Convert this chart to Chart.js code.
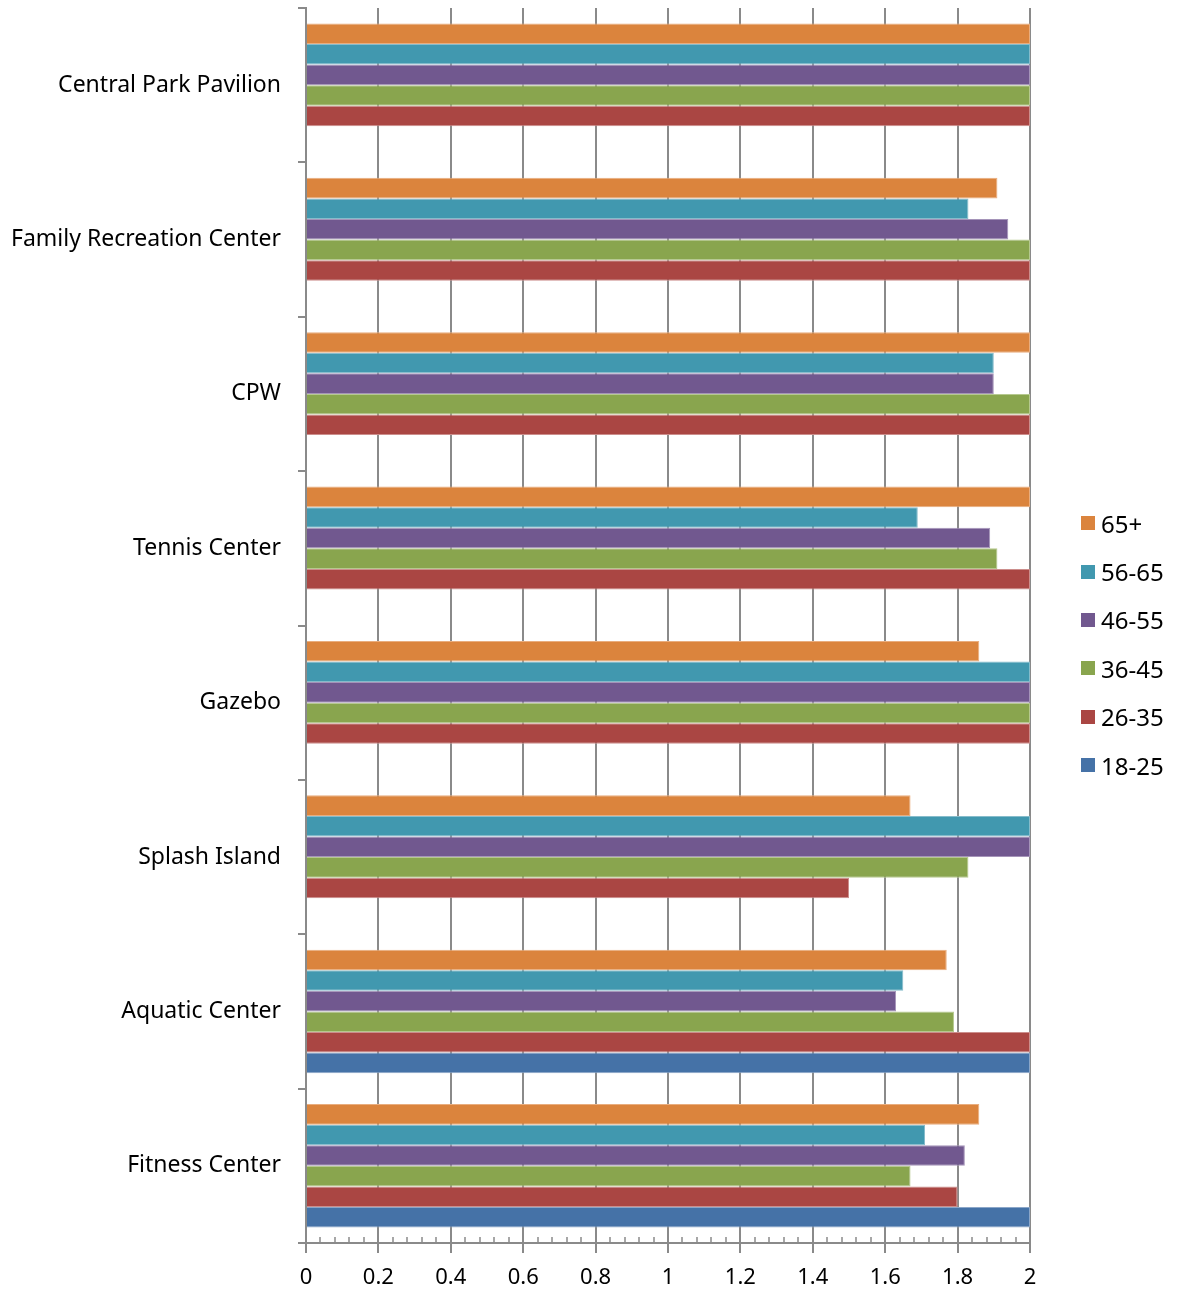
<!DOCTYPE html>
<html lang="en">
<head>
  <meta charset="UTF-8" />
  <title>Facility ratings by age group</title>
  <script src="https://cdn.jsdelivr.net/npm/chart.js"></script>
  <style>
    html, body { margin: 0; padding: 0; background: white; }
    #wrap { width: 1181px; height: 1294px; position: relative; }
    #legend { position: absolute; left: 1081px; top: 499px; font-family: "Noto Sans", sans-serif; font-size: 24px; color: #000; }
    #legend div { height: 48.4px; display: flex; align-items: center; }
    #legend span.box { width: 14px; height: 14px; margin-right: 6px; display: inline-block; }
  </style>
</head>
<body>
  <div id="wrap">
    <canvas id="chart"></canvas>
    <div id="legend"></div>
  </div>

  <script>
    // categories listed top to bottom
    const categories = ['Central Park Pavilion', 'Family Recreation Center', 'CPW', 'Tennis Center',
                        'Gazebo', 'Splash Island', 'Aquatic Center', 'Fitness Center'];
    const age65plus = [2, 1.91, 2, 2, 1.86, 1.67, 1.77, 1.86];
    const age56to65 = [2, 1.83, 1.9, 1.69, 2, 2, 1.65, 1.71];
    const age46to55 = [2, 1.94, 1.9, 1.89, 2, 2, 1.63, 1.82];
    const age36to45 = [2, 2, 2, 1.91, 2, 1.83, 1.79, 1.67];
    const age26to35 = [2, 2, 2, 2, 2, 1.5, 2, 1.8];
    const age18to25 = [null, null, null, null, null, null, 2, 2];
    const xTicks = [0, 0.2, 0.4, 0.6, 0.8, 1, 1.2, 1.4, 1.6, 1.8, 2];

    const gridColor = '#8a8a8a';
    const tickFont = { family: '"Noto Sans", sans-serif', size: 22 };
    const catFont = { family: '"Noto Sans", sans-serif', size: 23 };

    // small minor ticks on the x axis, 4 between each major tick
    const minorTicks = {
      id: 'minorTicks',
      afterDraw(chart) {
        const x = chart.scales.x, ctx = chart.ctx;
        const y0 = chart.chartArea.bottom;
        ctx.save();
        ctx.strokeStyle = gridColor;
        ctx.lineWidth = 1.5;
        for (let i = 0; i < xTicks.length - 1; i++) {
          const step = (xTicks[i + 1] - xTicks[i]) / 5;
          for (let k = 1; k < 5; k++) {
            const px = Math.round(x.getPixelForValue(xTicks[i] + step * k));
            ctx.beginPath();
            ctx.moveTo(px, y0 - 6);
            ctx.lineTo(px, y0);
            ctx.stroke();
          }
        }
        ctx.restore();
      }
    };

    function series(label, data, color, edge) {
      return { label, data, backgroundColor: color, borderColor: edge, borderWidth: 1,
               categoryPercentage: 0.8, barPercentage: 1 };
    }

    const chart = new Chart(document.getElementById('chart'), {
      type: 'bar',
      data: {
        labels: categories,
        datasets: [
          series('65+', age65plus, '#DB843D', '#E9AD7E'),
          series('56-65', age56to65, '#4198AF', '#86BCCB'),
          series('46-55', age46to55, '#71588F', '#A594B9'),
          series('36-45', age36to45, '#89A54E', '#B6C98F'),
          series('26-35', age26to35, '#AA4643', '#CC8E8C'),
          series('18-25', age18to25, '#4572A7', '#8BA6C8')
        ]
      },
      options: {
        indexAxis: 'y',
        responsive: true,
        maintainAspectRatio: false,
        animation: false,
        layout: { padding: { top: 8, right: 151, bottom: 0, left: 0 } },
        plugins: {
          tooltip: { enabled: false },
          legend: { display: false }
        },
        scales: {
          x: {
            min: 0, max: 2,
            afterBuildTicks(scale) { scale.ticks = xTicks.map(v => ({ value: v })); },
            afterFit(scale) { scale.height = 51; scale.paddingLeft = 0; scale.paddingRight = 0; },
            ticks: { color: '#000', font: tickFont, padding: 12, callback: v => String(v) },
            grid: { color: gridColor, lineWidth: 2, tickLength: 10 },
            border: { color: gridColor, width: 2 }
          },
          y: {
            afterFit(scale) { scale.width = 306; scale.paddingTop = 0; scale.paddingBottom = 0; },
            ticks: { color: '#000', font: catFont, padding: 17 },
            grid: { drawOnChartArea: false, color: gridColor, lineWidth: 2, tickLength: 8, offset: true },
            border: { color: gridColor, width: 2 }
          }
        }
      },
      plugins: [minorTicks]
    });

    // legend as real text beside the chart, same order as the datasets
    const legend = document.getElementById('legend');
    chart.data.datasets.forEach(ds => {
      const row = document.createElement('div');
      const box = document.createElement('span');
      box.className = 'box';
      box.style.background = ds.backgroundColor;
      row.appendChild(box);
      row.appendChild(document.createTextNode(ds.label));
      legend.appendChild(row);
    });
  </script>
</body>
</html>
